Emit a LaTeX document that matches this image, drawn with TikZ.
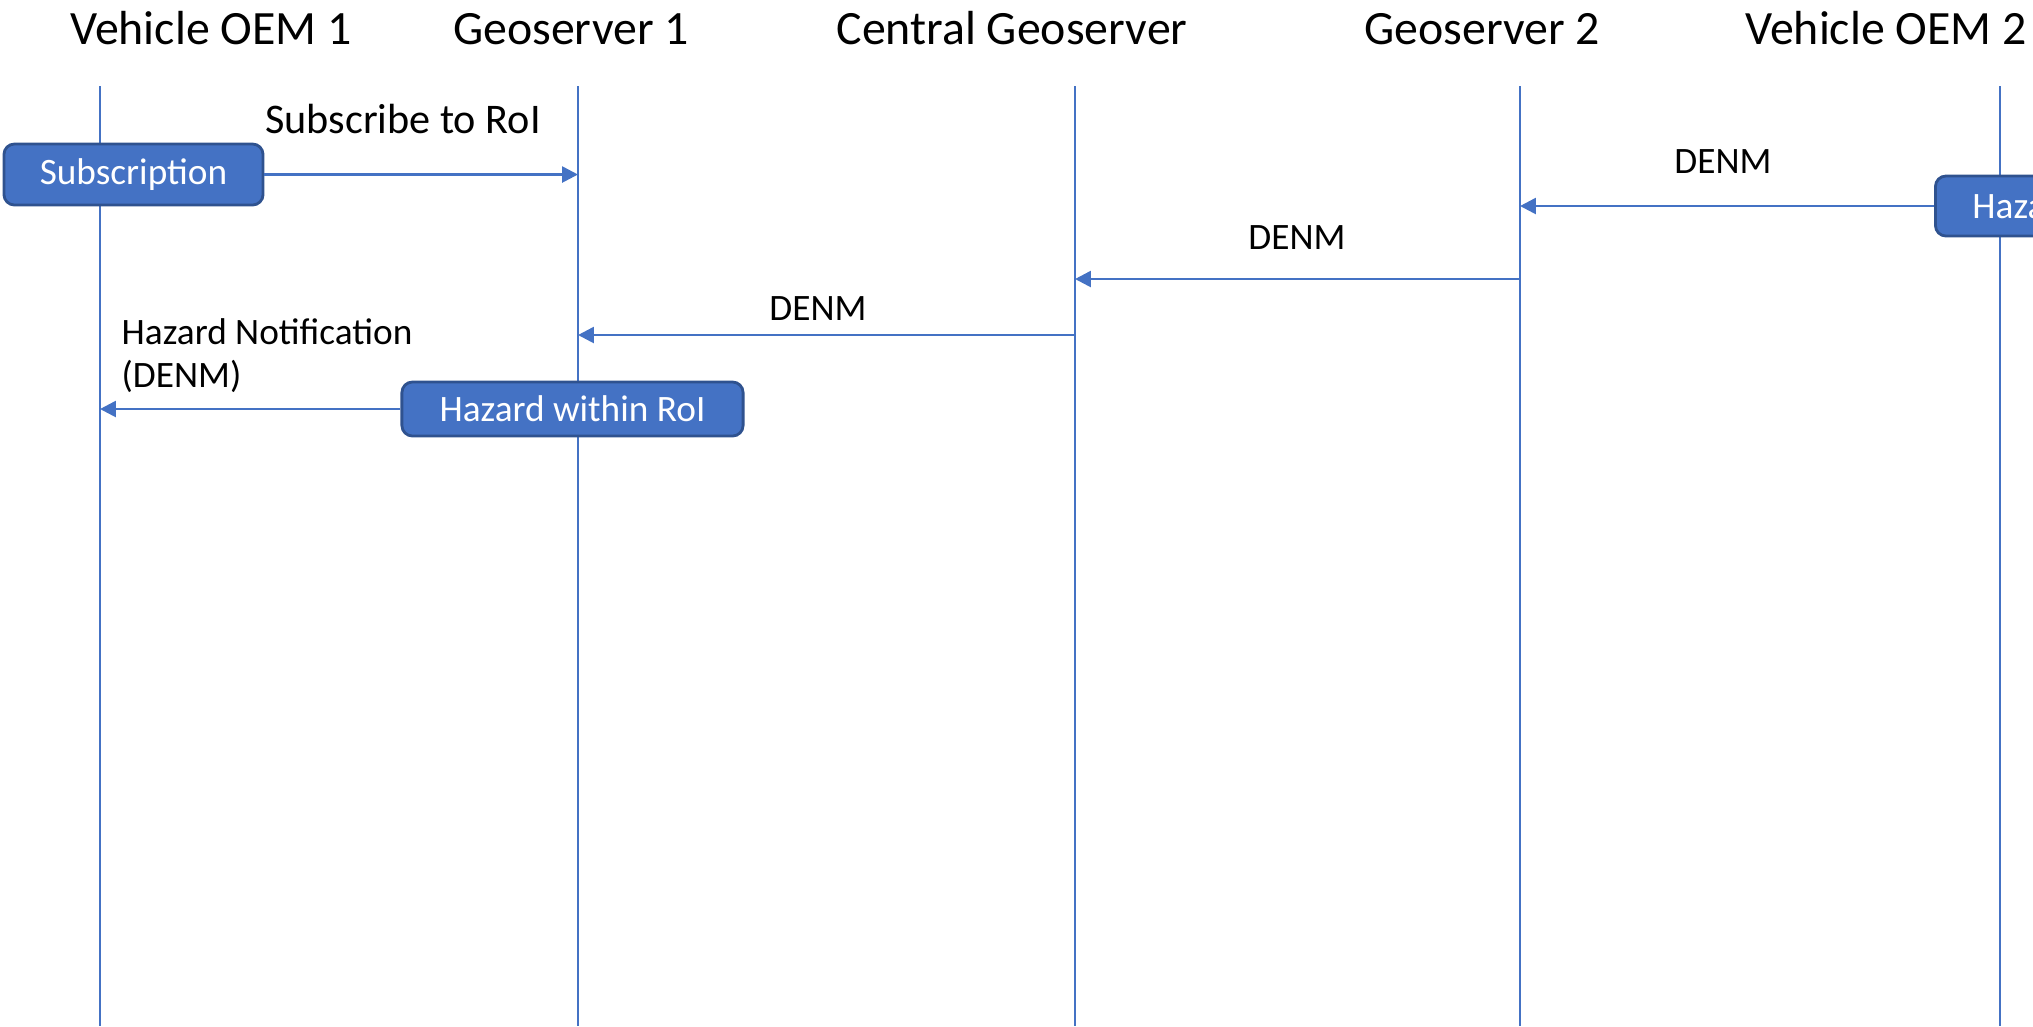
\documentclass[tikz,border=0pt]{standalone}
\usepackage{fontspec}
\setmainfont{Carlito}
\usetikzlibrary{arrows.meta}
\definecolor{msgblue}{HTML}{4472C4}
\definecolor{boxedge}{HTML}{2F528F}

\begin{document}
\begin{tikzpicture}[x=0.01cm,y=-0.01cm,
  lifeline/.style={draw=msgblue, line width=0.45pt},
  msg/.style={draw=msgblue, line width=0.75pt, -{Triangle[length=4.5pt,width=4.5pt]}},
  actor/.style={font=\fontsize{13.6}{16}\selectfont, inner sep=0pt, anchor=base},
  lbl/.style={font=\fontsize{10.6}{12.2}\selectfont, inner sep=0pt},
  event/.style={draw=boxedge, fill=msgblue, text=white, rounded corners=3pt,
    line width=0.8pt, font=\fontsize{10.6}{13}\selectfont, inner sep=0pt}]

\useasboundingbox (0,0) rectangle (2033,1026);
\clip (0,0) rectangle (2033,1026);

% participants
\node[actor] (hv1) at (211,44) {Vehicle OEM 1};
\node[actor] (hg1) at (571,44) {Geoserver 1};
\node[actor] (hcg) at (1012,44) {Central Geoserver};
\node[actor] (hg2) at (1482,44) {Geoserver 2};
\node[actor] (hv2) at (1886,44) {Vehicle OEM 2};

% lifelines
\coordinate (v1) at (100,86);   \coordinate (v1b) at (100,1026);
\coordinate (g1) at (578,86);   \coordinate (g1b) at (578,1026);
\coordinate (cg) at (1075,86);  \coordinate (cgb) at (1075,1026);
\coordinate (g2) at (1520,86);  \coordinate (g2b) at (1520,1026);
\coordinate (v2) at (2000,86);  \coordinate (v2b) at (2000,1026);
\foreach \a/\b in {v1/v1b, g1/g1b, cg/cgb, g2/g2b, v2/v2b}
  \draw[lifeline] (\a) -- (\b);

% events
\node[event, minimum width=2.59cm, minimum height=0.61cm] (sub) at (133.5,174.5) {Subscription};
\node[event, minimum width=3.41cm, minimum height=0.54cm] (hzr) at (572.5,409) {Hazard within RoI};
\node[event, anchor=west, minimum height=0.60cm, text width=1.86cm, align=left,
  inner xsep=0.37cm] (hz2) at (1934,206) {Hazard};

% message points on lifelines
\coordinate (m3s) at (1520,279);  \coordinate (m3e) at (1075,279);
\coordinate (m4s) at (1075,335);  \coordinate (m4e) at (578,335);

% messages
\draw[msg] (sub.east) -- (g1 |- sub.east);
\draw[msg] (hz2.west) -- (g2 |- hz2.west);
\draw[msg] (m3s) -- (m3e);
\draw[msg] (m4s) -- (m4e);
\draw[msg] (hzr.west) -- (v1 |- hzr.west);

% message labels
\node[lbl, font=\fontsize{12}{14}\selectfont, anchor=base] (l1) at (403,133) {Subscribe to RoI};
\node[lbl, anchor=base] (l2) at (1723,173) {DENM};
\node[lbl, anchor=base] (l3) at (1297,249) {DENM};
\node[lbl, anchor=base] (l4) at (818,320) {DENM};
\node[lbl, anchor=north west, align=left] (l5) at (121,318) {Hazard Notification\\(DENM)};
\end{tikzpicture}
\end{document}
